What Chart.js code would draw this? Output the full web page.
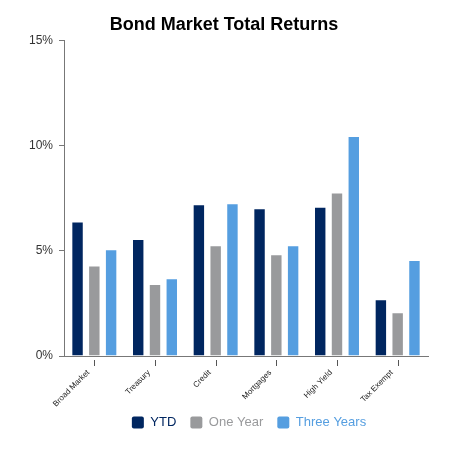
<!DOCTYPE html>
<html>
<head>
<meta charset="utf-8">
<script src="https://cdn.jsdelivr.net/npm/chart.js@4"></script>
<style>
  html, body { margin: 0; padding: 0; background: #fff; }
  #wrap { width: 450px; height: 450px; }
</style>
</head>
<body>
<div id="wrap"><canvas id="myChart"></canvas></div>
<script>
var categories = ['Broad Market', 'Treasury', 'Credit', 'Mortgages', 'High Yield', 'Tax Exempt'];
var ytd = [6.4, 5.57, 7.22, 7.03, 7.1, 2.7];
var oneYear = [4.3, 3.43, 5.27, 4.84, 7.78, 2.08];
var threeYears = [5.08, 3.7, 7.27, 5.27, 10.46, 4.56];
var yTicks = [0, 5, 10, 15];

var colors = ['#002660', '#999a9c', '#559ee0'];

// small tick marks below the x axis, detached from the axis line
const xTickMarks = {
  id: 'xTickMarks',
  afterLayout(chart) {
    // legend sits centred under the plot area, a bit closer to the labels
    chart.legend.left += 25;
    chart.legend.right += 25;
    chart.legend.top -= 9;
    chart.legend.bottom -= 9;
  },
  afterDraw(chart) {
    const {ctx, scales: {x}, chartArea} = chart;
    ctx.save();
    ctx.strokeStyle = '#555';
    ctx.lineWidth = 1;
    for (let i = 0; i < categories.length; i++) {
      const px = Math.round(x.getPixelForTick(i)) + 0.5;
      ctx.beginPath();
      ctx.moveTo(px, chartArea.bottom + 4);
      ctx.lineTo(px, chartArea.bottom + 10);
      ctx.stroke();
    }
    ctx.restore();
  }
};

function bar(label, data, color) {
  return {
    label: label,
    data: data,
    backgroundColor: color,
    borderColor: 'rgba(255,255,255,0.35)',
    borderWidth: 1,
    borderSkipped: 'bottom',
    categoryPercentage: 0.83,
    barPercentage: 0.74
  };
}

new Chart(document.getElementById('myChart'), {
  type: 'bar',
  data: {
    labels: categories,
    datasets: [
      bar('YTD', ytd, colors[0]),
      bar('One Year', oneYear, colors[1]),
      bar('Three Years', threeYears, colors[2])
    ]
  },
  options: {
    responsive: true,
    maintainAspectRatio: false,
    animation: false,
    layout: { padding: { left: 20, right: 22, top: 0, bottom: 2 } },
    plugins: {
      title: {
        display: true,
        text: 'Bond Market Total Returns',
        color: '#000',
        font: { family: 'Liberation Sans', size: 18, weight: 'bold' },
        padding: { top: 14, bottom: 5 }
      },
      legend: {
        position: 'bottom',
        labels: {
          font: { family: 'Liberation Sans', size: 13 },
          boxWidth: 12,
          boxHeight: 12,
          padding: 14,
          useBorderRadius: true,
          borderRadius: 2,
          generateLabels(chart) {
            return chart.data.datasets.map(function (ds, i) {
              return {
                text: ds.label,
                fillStyle: colors[i],
                strokeStyle: colors[i],
                lineWidth: 0,
                fontColor: colors[i],
                borderRadius: 2,
                datasetIndex: i,
                hidden: false
              };
            });
          }
        }
      },
      tooltip: { enabled: false }
    },
    scales: {
      x: {
        grid: { display: false, drawTicks: false },
        border: { color: '#777', width: 1 },
        afterFit(scale) { scale.height = 55; },
        ticks: {
          minRotation: 45,
          maxRotation: 45,
          padding: 12,
          labelOffset: -6,
          color: '#222',
          font: { family: 'Liberation Sans', size: 8 }
        }
      },
      y: {
        min: 0,
        max: 15,
        afterBuildTicks(axis) {
          axis.ticks = yTicks.map(function (v) { return { value: v }; });
        },
        afterFit(scale) { scale.width = 44; },
        grid: { drawOnChartArea: false, tickLength: 5, color: '#777' },
        border: { color: '#777', width: 1 },
        ticks: {
          padding: 6,
          color: '#333',
          font: { family: 'Liberation Sans', size: 12 },
          callback: function (v) { return v + '%'; }
        }
      }
    }
  },
  plugins: [xTickMarks]
});
</script>
</body>
</html>
